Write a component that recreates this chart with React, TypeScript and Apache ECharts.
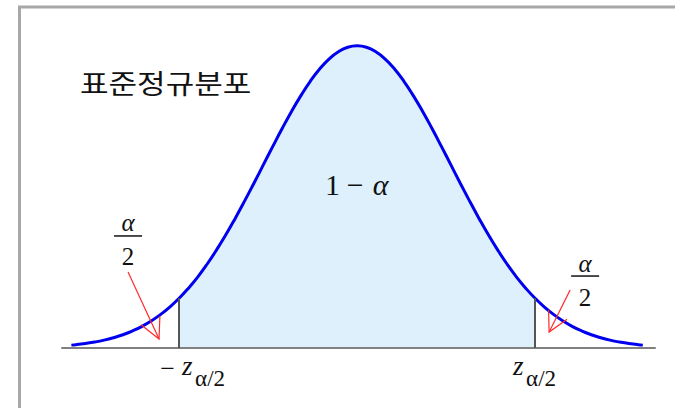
import React, { useEffect, useRef } from "react";
import * as echarts from "echarts";

// Standard normal density sampled along z
const zValues = [
  -3.05, -3.0, -2.9, -2.8, -2.7, -2.6, -2.5, -2.4, -2.3, -2.2, -2.1, -2.0,
  -1.9, -1.8, -1.7, -1.6, -1.5, -1.4, -1.3, -1.2, -1.1, -1.0, -0.9, -0.8,
  -0.7, -0.6, -0.5, -0.4, -0.3, -0.2, -0.1, 0.0, 0.1, 0.2, 0.3, 0.4, 0.5,
  0.6, 0.7, 0.8, 0.9, 1.0, 1.1, 1.2, 1.3, 1.4, 1.5, 1.6, 1.7, 1.8, 1.9, 2.0,
  2.1, 2.2, 2.3, 2.4, 2.5, 2.6, 2.7, 2.8, 2.9, 3.0, 3.05,
];
const density = [
  0.0038, 0.0044, 0.006, 0.0079, 0.0104, 0.0136, 0.0175, 0.0224, 0.0283,
  0.0355, 0.044, 0.054, 0.0656, 0.079, 0.094, 0.1109, 0.1295, 0.1497, 0.1714,
  0.1942, 0.2179, 0.242, 0.2661, 0.2897, 0.3123, 0.3332, 0.3521, 0.3683,
  0.3814, 0.391, 0.397, 0.3989, 0.397, 0.391, 0.3814, 0.3683, 0.3521, 0.3332,
  0.3123, 0.2897, 0.2661, 0.242, 0.2179, 0.1942, 0.1714, 0.1497, 0.1295,
  0.1109, 0.094, 0.079, 0.0656, 0.054, 0.044, 0.0355, 0.0283, 0.0224, 0.0175,
  0.0136, 0.0104, 0.0079, 0.006, 0.0044, 0.0038,
];
const criticalZ = 1.9;
const titleText = "표준정규분포";

const curve = zValues.map((z, i) => [z, density[i]]);
const shaded = curve.filter(([z]) => Math.abs(z) <= criticalZ + 1e-9);
const criticalHeight = density[zValues.findIndex((z) => Math.abs(z - criticalZ) < 1e-9)];

const RED = "#ff2a2a";
const INK = "#111111";
const SERIF = "Liberation Serif";

const option = {
  animation: false,
  backgroundColor: "#ffffff",
  grid: { left: 62, right: 20, top: 45, bottom: 60 },
  xAxis: {
    type: "value",
    min: -3.15,
    max: 3.18,
    z: 2,
    axisLine: { show: true, onZero: true, lineStyle: { color: "#808080", width: 2 } },
    axisTick: { show: false },
    axisLabel: { show: false },
    splitLine: { show: false },
  },
  yAxis: { type: "value", min: 0, max: 0.4, show: false },
  series: [
    {
      type: "line",
      data: shaded,
      smooth: true,
      showSymbol: false,
      z: 1,
      lineStyle: { opacity: 0 },
      areaStyle: { color: "#ddf0fc", opacity: 1 },
      markLine: {
        silent: true,
        symbol: ["none", "none"],
        label: { show: false },
        lineStyle: { color: "#555555", width: 2, type: "solid" },
        data: [
          [{ coord: [-criticalZ, 0] }, { coord: [-criticalZ, criticalHeight] }],
          [{ coord: [criticalZ, 0] }, { coord: [criticalZ, criticalHeight] }],
        ],
      },
    },
    {
      type: "line",
      data: curve,
      smooth: true,
      showSymbol: false,
      z: 3,
      lineStyle: { color: "#0000ee", width: 3 },
    },
  ],
};

// Serif math glyphs drawn as free text
function text(
  content: string,
  x: number,
  y: number,
  size: number,
  align: string,
  italic = false,
  family = SERIF
) {
  return {
    type: "text",
    silent: true,
    z: 10,
    style: {
      text: content,
      x,
      y,
      fill: INK,
      fontSize: size,
      fontFamily: family,
      fontStyle: italic ? "italic" : "normal",
      align,
      verticalAlign: "middle",
    },
  };
}

function arrow(tail: number[], tip: number[], len: number, spread: number) {
  const ang = Math.atan2(tail[1] - tip[1], tail[0] - tip[0]);
  const w1 = [tip[0] + len * Math.cos(ang - spread), tip[1] + len * Math.sin(ang - spread)];
  const w2 = [tip[0] + len * Math.cos(ang + spread), tip[1] + len * Math.sin(ang + spread)];
  const style = { stroke: RED, lineWidth: 1.2, fill: "none" };
  return [
    { type: "line", silent: true, z: 10, shape: { x1: tail[0], y1: tail[1], x2: tip[0], y2: tip[1] }, style },
    { type: "polyline", silent: true, z: 10, shape: { points: [w1, tip, w2] }, style },
  ];
}

function fraction(cx: number, barY: number) {
  return [
    text("α", cx, barY - 13, 25, "center", true),
    {
      type: "line",
      silent: true,
      z: 10,
      shape: { x1: cx - 14, y1: barY, x2: cx + 14, y2: barY },
      style: { stroke: INK, lineWidth: 1.5 },
    },
    text("2", cx, barY + 21, 25, "center"),
  ];
}

export default function App() {
  const ref = useRef<HTMLDivElement>(null);

  useEffect(() => {
    const chart = echarts.init(ref.current!, null, { renderer: "svg" });
    chart.setOption(option);

    const px = (z: number, d: number) =>
      chart.convertToPixel({ gridIndex: 0 }, [z, d]) as number[];

    const [leftX, baseY] = px(-criticalZ, 0);
    const [rightX] = px(criticalZ, 0);
    const [midX, midY] = px(0, 0.2152);
    const leftFrac = px(-2.445, 0.1479);
    const rightFrac = px(2.434, 0.095);

    const title = text(titleText, 0, 0, 27, "left", false, "Noto Sans CJK KR");
    const elements: unknown[] = [
      {
        type: "rect",
        silent: true,
        z: 20,
        shape: { x: 19.5, y: 7, width: 800, height: 600 },
        style: { fill: "none", stroke: "#a8a8a8", lineWidth: 3 },
      },
      { ...title, x: 80, y: 82, scaleX: 1.15 },
      // 1 − α inside the central area
      text("1", midX - 24.5, midY, 30, "center"),
      text("−", midX - 2, midY, 30, "center"),
      text("α", midX + 23.5, midY, 30, "center", true),
      ...fraction(leftFrac[0], leftFrac[1]),
      ...fraction(rightFrac[0], rightFrac[1]),
      ...arrow(px(-2.445, 0.1003), px(-2.114, 0.0119), 23, 0.47),
      ...arrow(px(2.274, 0.0766), px(2.05, 0.0211), 22, 0.49),
      // critical value labels under the axis
      text("−", leftX - 11.5, baseY + 20, 26, "center"),
      text("z", leftX + 3, baseY + 17.5, 27, "left", true),
      text("α/2", leftX + 16, baseY + 30, 23, "left"),
      text("z", rightX - 22, baseY + 17.5, 27, "left", true),
      text("α/2", rightX - 9, baseY + 30, 23, "left"),
    ];

    chart.setOption({ graphic: { elements } });
    return () => chart.dispose();
  }, []);

  return (
    <div
      ref={ref}
      style={{ position: "fixed", left: 0, top: 0, width: 675, height: 408, background: "#ffffff" }}
    />
  );
}
